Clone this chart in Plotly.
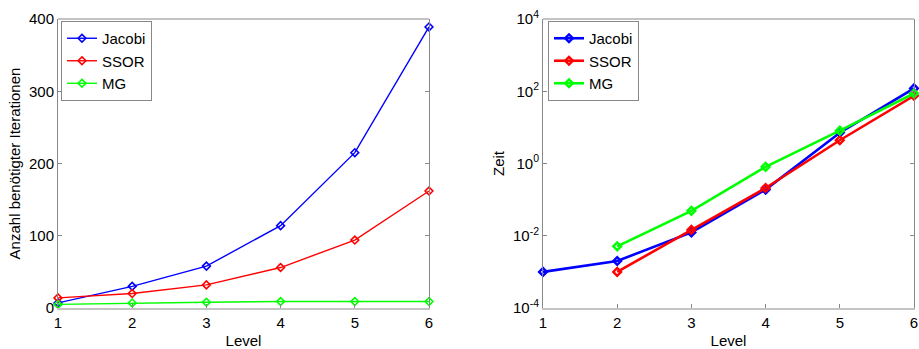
import plotly.graph_objects as go

levels = [1, 2, 3, 4, 5, 6]
iter_jacobi = [7, 30, 58, 114, 215, 389]
iter_ssor = [14, 20, 32, 56, 94, 162]
iter_mg = [5, 7, 8, 9, 9, 9]

time_levels_jacobi = [1, 2, 3, 4, 5, 6]
time_jacobi = [1.0e-3, 2.0e-3, 0.0124, 0.19, 7.1, 120]
time_levels_ssor = [2, 3, 4, 5, 6]
time_ssor = [1.0e-3, 0.0145, 0.21, 4.4, 75]
time_levels_mg = [2, 3, 4, 5, 6]
time_mg = [0.0051, 0.049, 0.81, 8.1, 87]

log_tickvals = [1e-4, 1e-2, 1, 1e2, 1e4]
log_ticktext = ["10<sup>-4</sup>", "10<sup>-2</sup>", "10<sup>0</sup>", "10<sup>2</sup>", "10<sup>4</sup>"]

colors = {"Jacobi": "#0000ff", "SSOR": "#ff0000", "MG": "#00ff00"}
font = dict(family="Liberation Sans, Arial, sans-serif", size=15, color="#000000")
frame_color = "#888888"

fig = go.Figure()

for name, ys in [("Jacobi", iter_jacobi), ("SSOR", iter_ssor), ("MG", iter_mg)]:
    fig.add_trace(go.Scatter(
        x=levels, y=ys, name=name, mode="lines+markers",
        line=dict(color=colors[name], width=1.4),
        marker=dict(symbol="diamond-open", size=6, color=colors[name], line=dict(width=1.6)),
        xaxis="x", yaxis="y", legend="legend", cliponaxis=False,
    ))

for name, xs, ys in [("Jacobi", time_levels_jacobi, time_jacobi),
                     ("SSOR", time_levels_ssor, time_ssor),
                     ("MG", time_levels_mg, time_mg)]:
    fig.add_trace(go.Scatter(
        x=xs, y=ys, name=name, mode="lines+markers",
        line=dict(color=colors[name], width=2.6),
        marker=dict(symbol="diamond-open", size=6, color=colors[name], line=dict(width=2.4)),
        xaxis="x2", yaxis="y2", legend="legend2", cliponaxis=False,
    ))

x_common = dict(
    showline=True, linecolor="#c4c4c4", linewidth=2, mirror=False,
    ticks="inside", ticklen=4, tickcolor=frame_color, showgrid=False, zeroline=False,
    tickfont=font, automargin=False,
)
y_common = dict(
    showline=True, linecolor=frame_color, linewidth=1, mirror="ticks",
    ticks="inside", ticklen=4, tickcolor=frame_color, showgrid=False, zeroline=False,
    tickfont=font, automargin=False,
)

fig.update_layout(
    width=919, height=349,
    margin=dict(l=0, r=0, t=0, b=0, autoexpand=False),
    paper_bgcolor="white", plot_bgcolor="white",
    font=font,
    xaxis=dict(domain=[58/919, 429/919], range=[1, 6], tickvals=levels,
               title=dict(text="Level", font=font, standoff=8), anchor="y", **x_common),
    yaxis=dict(domain=[1-308/349, 1-19/349], range=[0, 400], tickvals=[0, 100, 200, 300, 400],
               title=dict(text="Anzahl benötigter Iterationen", font=font, standoff=4), anchor="x", **y_common),
    xaxis2=dict(domain=[543/919, 914/919], range=[1, 6], tickvals=levels,
                title=dict(text="Level", font=font, standoff=8), anchor="y2", **x_common),
    yaxis2=dict(domain=[1-308/349, 1-19/349], type="log", range=[-4, 4],
                tickvals=log_tickvals, ticktext=log_ticktext,
                title=dict(text="Zeit", font=font, standoff=4), anchor="x2", **y_common),
    legend=dict(x=61/919, y=1-21/349, xanchor="left", yanchor="top",
                bordercolor=frame_color, borderwidth=1, bgcolor="white", font=font,
                tracegroupgap=0, itemwidth=30),
    legend2=dict(x=548/919, y=1-21/349, xanchor="left", yanchor="top",
                 bordercolor=frame_color, borderwidth=1, bgcolor="white", font=font,
                 tracegroupgap=0, itemwidth=30),
    showlegend=True,
)

# top frame lines (MATLAB-style box)
for xr, yr in [("x domain", "y domain"), ("x2 domain", "y2 domain")]:
    fig.add_shape(type="line", xref=xr, yref=yr, x0=0, x1=1, y0=1, y1=1,
                  line=dict(color=frame_color, width=1), layer="above")

fig.write_html("out.html")
